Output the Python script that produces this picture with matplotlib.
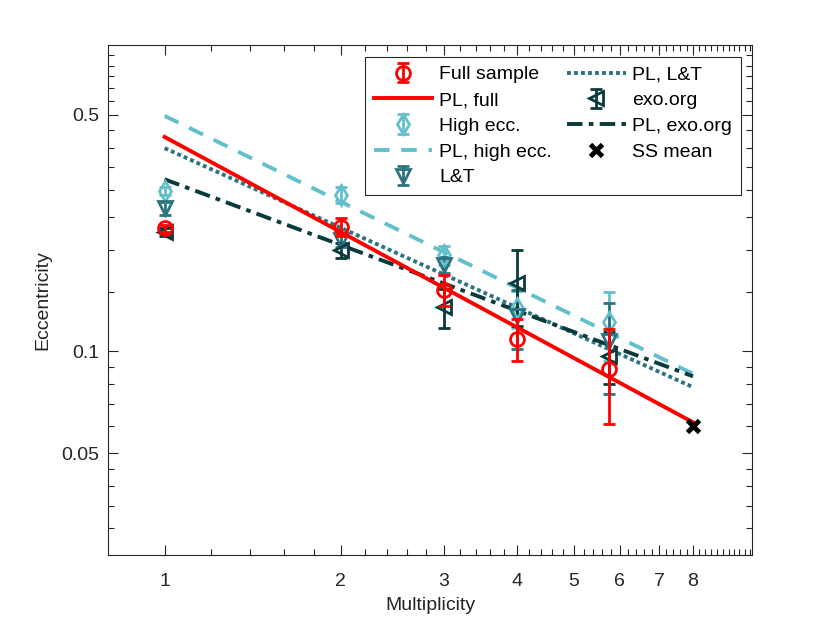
import numpy as np
import matplotlib
matplotlib.use("Agg")
from matplotlib import pyplot as plt
from matplotlib.legend_handler import HandlerErrorbar

plt.rcParams['font.family'] = ['Liberation Sans', 'DejaVu Sans']

# multiplicity bins
mult = [1, 2, 3, 4, 5.75]

# mean eccentricity per bin and error
full_e = [0.231, 0.234, 0.152, 0.109, 0.0889]
full_err = [0.005, 0.014, 0.016, 0.0155, 0.0277]
high_e = [0.2985, 0.290, 0.1925, 0.134, 0.122]
high_err = [0.008, 0.016, 0.0125, 0.017, 0.028]
lt_e = [0.265, 0.213, 0.180, 0.127, 0.107]
lt_err = [0.012, 0.010, 0.010, 0.025, 0.032]
exo_e = [0.226, 0.199, 0.135, 0.159, 0.097]
exo_err = [0.006, 0.010, 0.018, 0.040, 0.017]

# power law fits, values at the ends (multiplicity 1 and 8)
pl_x = [1, 8]
pl_full = [0.4305, 0.0617]
pl_high = [0.497, 0.0859]
pl_lt = [0.399, 0.0784]
pl_exo = [0.3226, 0.0844]

# solar system
ss_x = [8]
ss_e = [0.06]

red = (1, 0, 0)
light = '#62C0CC'
mid = '#2D7480'
dark = '#0A3A3C'
axcol = (0.15, 0.15, 0.15)
fs = 14

fig = plt.figure(figsize=(8.3, 6.23), dpi=100)
ax = fig.add_axes([0.13, 0.109, 0.776, 0.8188])

mk = dict(markersize=10, markeredgewidth=2, markerfacecolor='none',
          capsize=4.5, elinewidth=2, capthick=2, linestyle='none')

h_full = ax.errorbar(mult, full_e, yerr=full_err, marker='o', color=red,
                     label='Full sample', zorder=6, **mk)
l_full, = ax.plot(pl_x, pl_full, '-', color=red, lw=2.8,
                  label='PL, full', zorder=5)
h_high = ax.errorbar(mult, high_e, yerr=high_err, marker='d', color=light,
                     label='High ecc.', zorder=4, **mk)
l_high, = ax.plot(pl_x, pl_high, '--', color=light, lw=2.8,
                  dashes=(4, 3), label='PL, high ecc.', zorder=3)
h_lt = ax.errorbar(mult, lt_e, yerr=lt_err, marker='v', color=mid,
                   label='L&T', zorder=4, **mk)
l_lt, = ax.plot(pl_x, pl_lt, ':', color=mid, lw=2.8,
                dashes=(1, 0.8), label='PL, L&T', zorder=3)
h_exo = ax.errorbar(mult, exo_e, yerr=exo_err, marker='<', color=dark,
                    label='exo.org', zorder=4, **mk)
l_exo, = ax.plot(pl_x, pl_exo, '-.', color=dark, lw=2.8,
                 dashes=(4, 1.6, 1.2, 1.6), label='PL, exo.org', zorder=3)
h_ss, = ax.plot(ss_x, ss_e, 'x', color='k', markersize=9,
                markeredgewidth=3.5, linestyle='none', label='SS mean',
                zorder=7)

ax.set_xscale('log')
ax.set_yscale('log')
ax.set_xlim(0.8, 10.09)
ax.set_ylim(0.025, 0.805)

ax.set_xticks([1, 2, 3, 4, 5, 6, 7, 8])
ax.set_xticklabels(['1', '2', '3', '4', '5', '6', '7', '8'])
xminor = [round(v, 1) for v in np.arange(1.2, 10.01, 0.2)
          if abs(v - round(v)) > 0.05 or round(v) > 8]
ax.set_xticks(xminor, minor=True)
ax.set_yticks([0.05, 0.1, 0.5])
ax.set_yticklabels(['0.05', '0.1', '0.5'])
yminor = [0.03, 0.035, 0.04, 0.045, 0.06, 0.07, 0.08, 0.09,
          0.15, 0.2, 0.25, 0.3, 0.35, 0.4, 0.45,
          0.55, 0.6, 0.65, 0.7, 0.75]
ax.set_yticks(yminor, minor=True)
ax.xaxis.set_minor_formatter(matplotlib.ticker.NullFormatter())
ax.yaxis.set_minor_formatter(matplotlib.ticker.NullFormatter())

ax.tick_params(which='both', direction='in', top=True, right=True,
               colors=axcol, labelcolor=axcol, labelsize=fs, width=0.8)
ax.tick_params(which='major', length=7)
ax.tick_params(which='minor', length=4)
ax.tick_params(axis='x', which='both', pad=13)
ax.tick_params(axis='y', which='both', pad=6)
for s in ax.spines.values():
    s.set_color(axcol)
    s.set_linewidth(0.8)

ax.set_xlabel('Multiplicity', fontsize=fs, color=axcol, labelpad=5)
ax.set_ylabel('Eccentricity', fontsize=fs, color=axcol, labelpad=7)

handles = [h_full, l_full, h_high, l_high, h_lt, l_lt, h_exo, l_exo, h_ss]
leg = ax.legend(handles=handles, ncol=2, loc='upper right',
                bbox_to_anchor=(0.983, 0.9765), borderaxespad=0,
                fontsize=fs, fancybox=False, edgecolor=axcol, framealpha=1,
                handlelength=3.0, handletextpad=0.35, columnspacing=0.8,
                labelspacing=0.42, borderpad=0.45,
                handler_map={type(h_full): HandlerErrorbar(yerr_size=0.5)})
leg.get_frame().set_linewidth(0.8)

fig.savefig('out.png', dpi=100)
